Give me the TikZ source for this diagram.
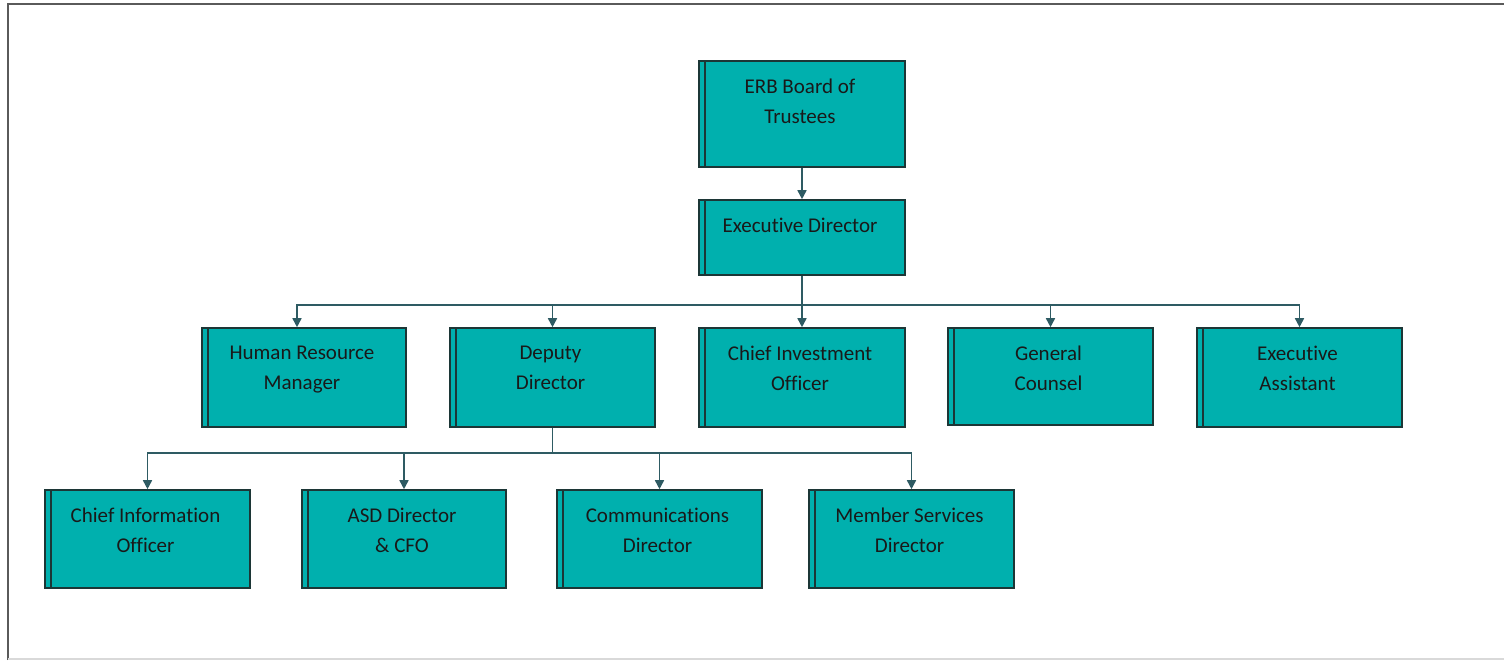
\documentclass[tikz,border=0pt]{standalone}
\usepackage{fontspec}
\setmainfont{Carlito}[Ligatures=NoCommon]
\usetikzlibrary{arrows.meta,calc}
\definecolor{teal1}{HTML}{00B0AE}
\definecolor{boxline}{HTML}{1C3636}
\definecolor{connc}{HTML}{2E5B63}
\definecolor{frame}{HTML}{5A5A5A}
\tikzset{
  box/.style={draw=boxline, fill=teal1, line width=0.8pt, inner sep=0pt,
    path picture={\draw[boxline, line width=0.8pt]
      ([xshift=3pt]path picture bounding box.north west) --
      ([xshift=3pt]path picture bounding box.south west);}},
  txt/.style={anchor=north, align=center, inner sep=0pt,
    font=\fontsize{10.5}{15}\selectfont, text=black!90},
  conn/.style={draw=connc, line width=0.8pt},
  arr/.style={conn, -{Triangle[length=4.5pt,width=4.5pt]}}
}
\newcommand{\orgbox}[6]{%
  \node[box, minimum width={(#4-#2)*0.5pt}, minimum height={(#5-#3)*0.5pt}]
    (#1) at ({(#2+#4)/2},{(#3+#5)/2}) {};
  \node[txt] (#1t) at ([xshift=-1pt,yshift=-9pt]#1.north) {#6};}
\begin{document}
\begin{tikzpicture}[x=0.5pt,y=-0.5pt]
\useasboundingbox (0,0) rectangle (1504,660);
\draw[frame, line width=1.2pt] (8,660) -- (8,4) -- (1504,4);
\draw[black!15, line width=0.8pt] (8,659) -- (1504,659);

\orgbox{board}{699}{61}{905}{167}{ERB Board of\\Trustees}
\orgbox{exec}{699}{200}{905}{275}{Executive Director}
\orgbox{hr}{202}{328}{406}{427}{Human Resource\\Manager}
\orgbox{dep}{450}{328}{655}{427}{Deputy\\Director}
\orgbox{cio}{699}{328}{905}{427}{Chief Investment\\Officer}
\orgbox{gc}{948}{328}{1153}{425}{General\\Counsel}
\orgbox{ea}{1197}{328}{1402}{427}{Executive\\Assistant}
\orgbox{cinfo}{45}{490}{250}{588}{Chief Information\\Officer}
\orgbox{asd}{302}{490}{506}{588}{ASD Director\\\& CFO}
\orgbox{comm}{557}{490}{762}{588}{Communications\\Director}
\orgbox{msd}{809}{490}{1014}{588}{Member Services\\Director}

\draw[arr] (board.south) -- (exec.north);
\draw[arr] (exec.south) -- (cio.north);
\coordinate (bus1) at ($(exec.south)+(0,29)$);
\draw[arr] (bus1) -| ([xshift=-3.5pt]hr.north);
\draw[arr] (bus1) -| (dep.north);
\draw[arr] (bus1) -| (gc.north);
\draw[arr] (bus1) -| (ea.north);
\coordinate (bus2) at ($(dep.south)+(0,25)$);
\draw[conn] (dep.south) -- (bus2);
\draw[arr] (bus2) -| (cinfo.north);
\draw[arr] (bus2) -| (asd.north);
\draw[arr] (bus2) -| (comm.north);
\draw[arr] (bus2) -| (msd.north);
\end{tikzpicture}
\end{document}
